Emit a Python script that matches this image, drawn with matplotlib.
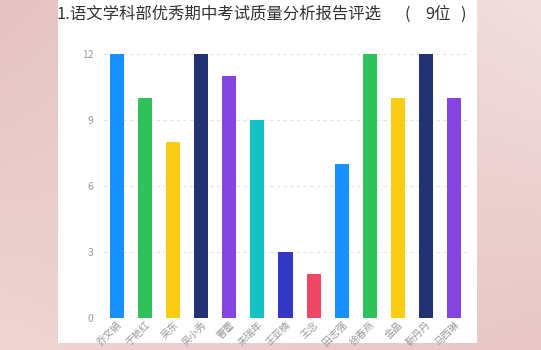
import numpy as np
import matplotlib.pyplot as plt
from matplotlib.patches import Rectangle

plt.rcParams['font.family'] = ['Noto Sans CJK SC', 'DejaVu Sans']

names = ['乔文娟', '于艳红', '吴东', '吴小秀', '曹蕾', '朱瑞年', '王亚楠',
         '王念', '田志强', '徐春燕', '金晶', '靳丹丹', '马西琳']
counts = [12, 10, 8, 12, 11, 9, 3, 2, 7, 12, 10, 12, 10]
palette = ['#1890FF', '#2FC25B', '#FACC14', '#223273', '#8543E0',
           '#13C2C2', '#3436C6', '#F04864']
yticks = [0, 3, 6, 9, 12]
title = '1.语文学科部优秀期中考试质量分析报告评选'
title_note = '9位'

W, H = 541, 350
fig = plt.figure(figsize=(W / 100, H / 100), dpi=100)

# pink backdrop, bilinear blend between four corner colours
bg = fig.add_axes([0, 0, 1, 1])
def rgb(h):
    return np.array([int(h[i:i + 2], 16) for i in (1, 3, 5)]) / 255
tl, tr = rgb('#e5c2c1'), rgb('#f1dfdf')
bl, br = rgb('#eed5d4'), rgb('#e8c6c5')
X, Y = np.meshgrid(np.linspace(0, 1, 200), np.linspace(0, 1, 200))
X, Y = X[..., None], Y[..., None]
img = (tl * (1 - X) * (1 - Y) + tr * X * (1 - Y)
       + bl * (1 - X) * Y + br * X * Y)
bg.imshow(img, extent=[0, 1, 0, 1], aspect='auto', origin='upper')
bg.set_xlim(0, 1)
bg.set_ylim(0, 1)
bg.axis('off')

# white card
bg.add_patch(Rectangle((58 / W, 1 - 343 / H), (477 - 58) / W, 343 / H,
                       facecolor='white', edgecolor='none'))

# title, with the bracketed note spaced out like full-width text
ty = 1 - 14 / H
tstyle = dict(fontsize=11.8, color='#333333', va='center', ha='left')
fig.text(57 / W, ty, title, **tstyle)
fig.text(405 / W, ty, '(', **tstyle)
fig.text(425 / W, ty, title_note, **tstyle)
fig.text(460 / W, ty, ')', **tstyle)

ax = fig.add_axes([103 / W, 1 - 318 / H, (468 - 103) / W, (318 - 54) / H])
ax.set_facecolor('none')
x = np.arange(len(names))
colors = [palette[i % len(palette)] for i in range(len(names))]
ax.bar(x, counts, width=0.5, color=colors, zorder=3)

ax.set_xlim(-0.5, len(names) - 0.5)
ax.set_ylim(0, 12)
ax.set_yticks(yticks)
ax.set_yticklabels([str(v) for v in yticks])
for v in yticks[1:]:
    ax.axhline(v, color='#e3e3e3', lw=0.8, ls=(0, (3, 3)), zorder=1)
ax.axhline(0, color='#d9d9d9', lw=0.8, zorder=2)

ax.set_xticks(x)
ax.set_xticklabels(names, rotation=45, ha='right', rotation_mode='anchor')
ax.tick_params(axis='x', length=0, pad=1, labelsize=7.2, labelcolor='#999999')
ax.tick_params(axis='y', length=0, pad=7, labelsize=7.5, labelcolor='#999999')
for s in ax.spines.values():
    s.set_visible(False)

fig.savefig('out.png', dpi=100)
